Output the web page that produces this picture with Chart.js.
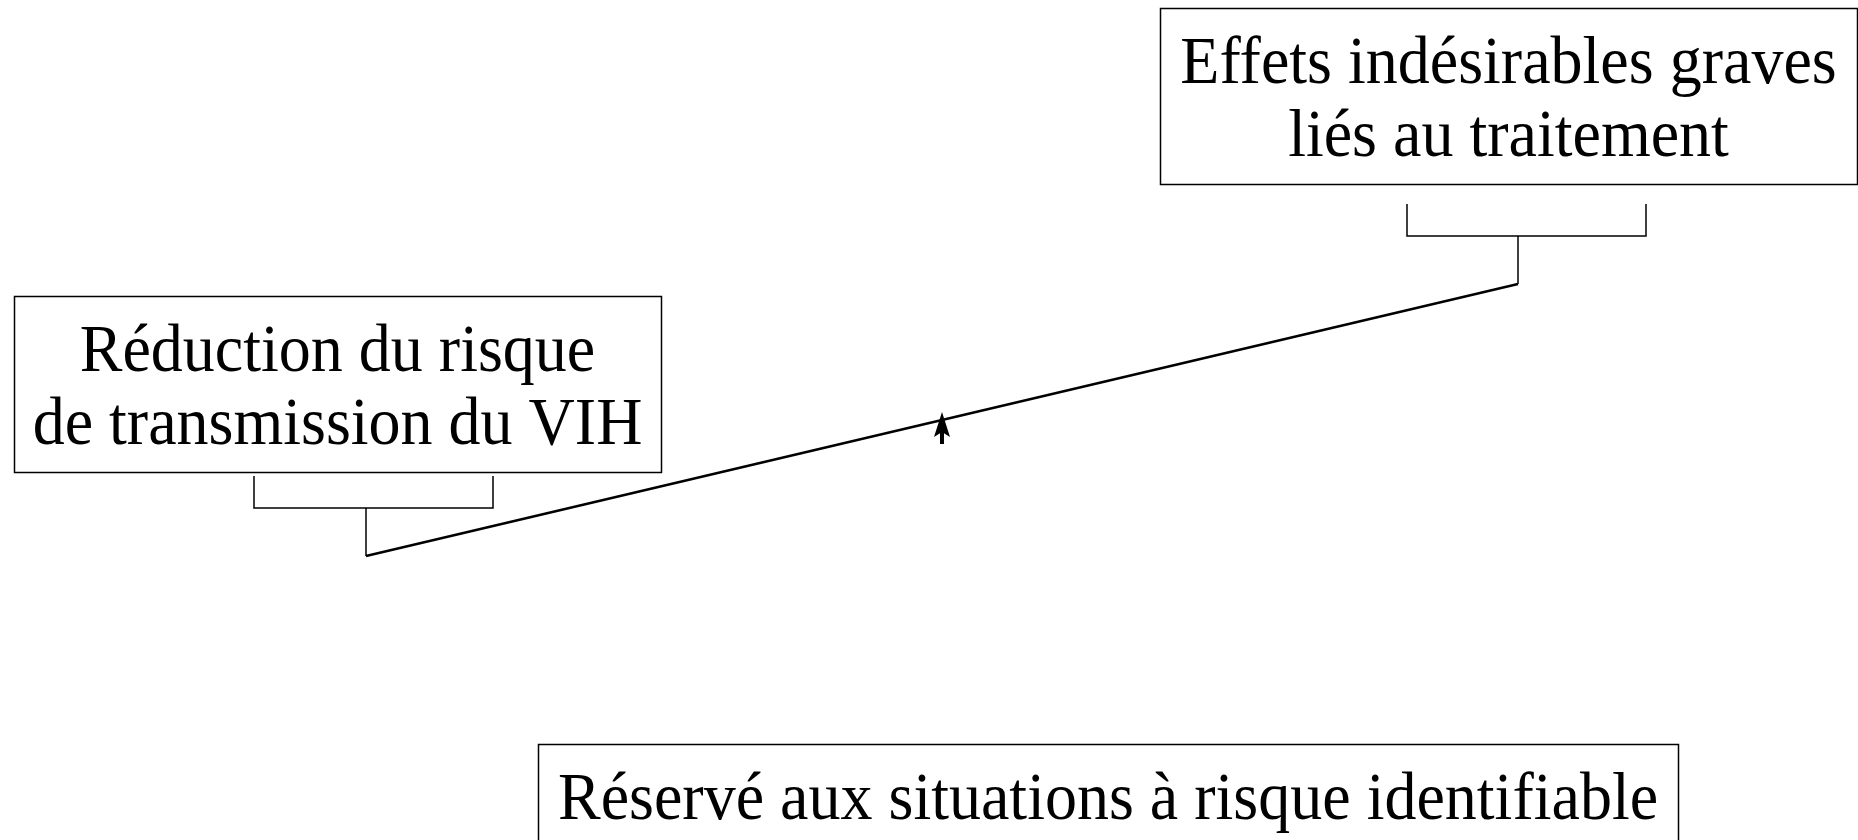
<!DOCTYPE html>
<html>
<head>
<meta charset="utf-8">
<script src="https://cdn.jsdelivr.net/npm/chart.js@4"></script>
<style>
  html, body { margin: 0; padding: 0; background: #fff; }
  #wrap { width: 1858px; height: 840px; }
</style>
</head>
<body>
<div id="wrap"><canvas id="chart"></canvas></div>
<script>
// balance: beam ends, pans (brackets) and stems, in figure units
const beamX = [366, 1518];
const beamY = [556, 284];
const leftPanX = [254, 254, 493, 493];
const leftPanY = [476, 508, 508, 476];
const leftStemX = [366, 366];
const leftStemY = [508, 556];
const rightPanX = [1407, 1407, 1646, 1646];
const rightPanY = [204, 236, 236, 204];
const rightStemX = [1518, 1518];
const rightStemY = [236, 284];
const pivotX = 942;
const pivotY = [412, 444];

const leftLabel = ['Réduction du risque', 'de transmission du VIH'];
const rightLabel = ['Effets indésirables graves', 'liés au traitement'];
const bottomLabel = ['Réservé aux situations à risque identifiable'];

function pts(xs, ys) {
    return xs.map((x, i) => ({ x: x, y: ys[i] }));
}

function seg(xs, ys, width) {
    return {
        data: pts(xs, ys),
        showLine: true,
        borderColor: '#000',
        borderWidth: width,
        pointRadius: 0,
        fill: false,
        tension: 0
    };
}

// text boxes are placed in figure units too
const boxes = [
    { lines: leftLabel, x0: 14, y0: 296, x1: 661, y1: 472 },
    { lines: rightLabel, x0: 1160, y0: 8, x1: 1857, y1: 184 },
    { lines: bottomLabel, x0: 538, y0: 744, x1: 1678, y1: 848 }
];

const boxPlugin = {
    id: 'boxes',
    afterDatasetsDraw(chart) {
        const c = chart.ctx;
        const xs = chart.scales.x, ys = chart.scales.y;
        c.save();
        c.strokeStyle = '#000';
        c.lineWidth = 1.5;
        c.fillStyle = '#000';
        boxes.forEach(b => {
            const px0 = xs.getPixelForValue(b.x0), px1 = xs.getPixelForValue(b.x1);
            const py0 = ys.getPixelForValue(b.y0), py1 = ys.getPixelForValue(b.y1);
            c.strokeRect(px0 + 0.5, py0 + 0.5, px1 - px0, py1 - py0);
            const cx = (px0 + px1) / 2, cy = (py0 + py1) / 2;
            const step = 73;
            const n = b.lines.length;
            c.font = '64px "Liberation Serif", "Times New Roman", serif';
            c.textAlign = 'center';
            c.textBaseline = 'alphabetic';
            b.lines.forEach((t, i) => {
                const ly = cy + (i - (n - 1) / 2) * step;
                c.save();
                c.translate(cx, ly);
                c.scale(1, 1.06);
                c.fillText(t, 0, 22);
                c.restore();
            });
        });

        // pivot arrow
        const ax = xs.getPixelForValue(pivotX);
        const tip = ys.getPixelForValue(pivotY[0]);
        const base = ys.getPixelForValue(pivotY[1]);
        c.beginPath();
        c.moveTo(ax, tip);
        c.lineTo(ax + 8, tip + 25);
        c.lineTo(ax, tip + 20);
        c.lineTo(ax - 8, tip + 25);
        c.closePath();
        c.fill();
        c.lineWidth = 4;
        c.beginPath();
        c.moveTo(ax, tip + 14);
        c.lineTo(ax, base);
        c.stroke();
        c.restore();
    }
};

new Chart(document.getElementById('chart').getContext('2d'), {
    type: 'scatter',
    data: {
        datasets: [
            seg(beamX, beamY, 2.5),
            seg(leftPanX, leftPanY, 1.5),
            seg(leftStemX, leftStemY, 1.5),
            seg(rightPanX, rightPanY, 1.5),
            seg(rightStemX, rightStemY, 1.5)
        ]
    },
    options: {
        responsive: true,
        maintainAspectRatio: false,
        animation: false,
        layout: { padding: 0 },
        plugins: {
            legend: { display: false },
            tooltip: { enabled: false }
        },
        scales: {
            x: { type: 'linear', min: 0, max: 1858, display: false },
            y: { type: 'linear', min: 0, max: 840, reverse: true, display: false }
        }
    },
    plugins: [boxPlugin]
});
</script>
</body>
</html>
